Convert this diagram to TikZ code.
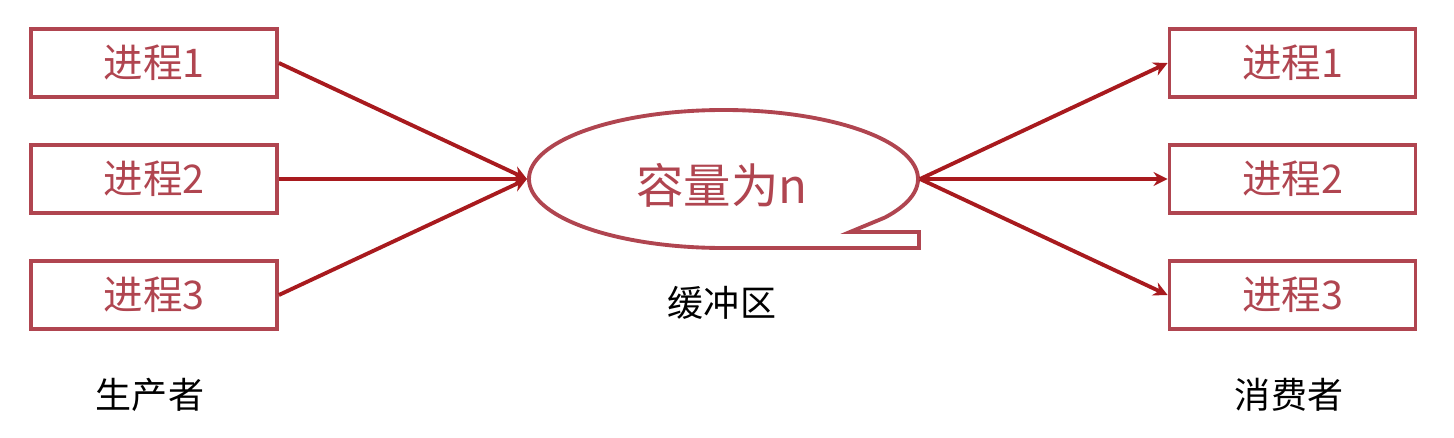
\documentclass[tikz,border=0pt]{standalone}
\usepackage{fontspec}
\newfontfamily\cjk{Noto Sans CJK SC}
\usetikzlibrary{arrows.meta,positioning}
\definecolor{rouge}{RGB}{176,69,80}
\definecolor{fleche}{RGB}{168,26,30}
\tikzset{
  proc/.style={draw=rouge, line width=2.2pt, minimum width=4.92cm, minimum height=1.36cm,
    text=rouge, font=\cjk\fontsize{22.5}{22.5}\selectfont},
  lien/.style={fleche, line width=2.2pt, -{Stealth[length=8pt,width=8pt]}},
  legende/.style={font=\cjk\fontsize{20.5}{20.5}\selectfont},
}
\begin{document}
\begin{tikzpicture}[x=0.02cm, y=0.02cm]
         % Cadre de l'image
         \useasboundingbox (0,0) rectangle (1454,437);
         % Variables du tampon
         \def\cx{723.5} % Centre x
         \def\cy{258} % Centre y
         \def\rx{194.5} % Demi-axe horizontal
         \def\ry{69} % Demi-axe vertical

         % Producteurs
         \node[proc] (p1) at (154,374) {进程1};
         \node[proc] (p2) at (154,258) {进程2};
         \node[proc] (p3) at (154,142) {进程3};

         % Consommateurs
         \node[proc] (c1) at (1292.5,374) {进程1};
         \node[proc] (c2) at (1292.5,258) {进程2};
         \node[proc] (c3) at (1292.5,142) {进程3};

         % Tampon (bulle)
         \draw[rouge, line width=2.2pt, line join=miter]
           ({\cx+\rx*cos(-34)},{\cy+\ry*sin(-34)})
           arc[start angle=-34, end angle=270, x radius=\rx, y radius=\ry]
           -- (919,189) -- (919,205) -- (850,205) -- cycle;
         \node[text=rouge, font=\cjk\fontsize{27}{27}\selectfont] (buf) at (722,252) {容量为n};
         \coordinate (bufW) at (527,258);
         \coordinate (bufE) at (920,258);

         % Fleches
         \draw[lien] (p1.east) -- (bufW);
         \draw[lien] (p2.east) -- (bufW);
         \draw[lien] (p3.east) -- (bufW);
         \draw[lien] (bufE) -- (c1.west);
         \draw[lien] (bufE) -- (c2.west);
         \draw[lien] (bufE) -- (c3.west);

         % Legendes
         \node[legende] (tampon) at (722,134) {缓冲区};
         \node[legende] (prod) at (150,42) {生产者};
         \node[legende] (cons) at (1289,42) {消费者};
      \end{tikzpicture}
\end{document}
